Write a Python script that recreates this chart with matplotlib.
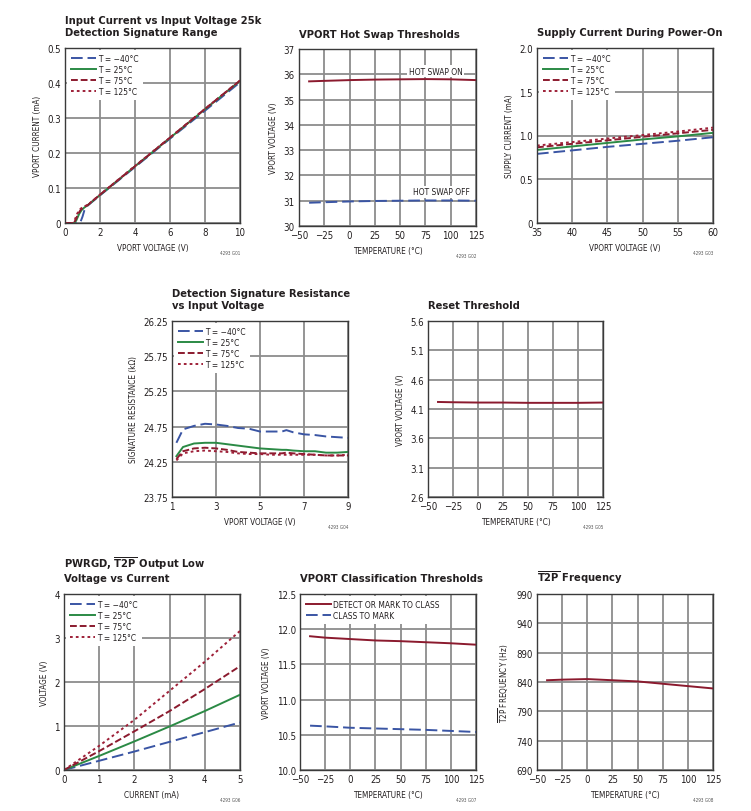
import matplotlib
matplotlib.use("Agg")
import matplotlib.pyplot as plt
from matplotlib import font_manager as fm

# ---------------- font selection ----------------
def _has(family, stretch='normal'):
    try:
        return fm.findfont(fm.FontProperties(family=family, stretch=stretch), fallback_to_default=False)
    except Exception:
        return None

FAMILY = 'Liberation Sans'
STRETCH = 'normal'
SCALE = 0.80
p = _has('Liberation Sans Narrow')
if p and 'Narrow' in p:
    FAMILY, SCALE = 'Liberation Sans Narrow', 1.0
else:
    p = _has('DejaVu Sans', 'condensed')
    if p and 'Condensed' in p:
        FAMILY, STRETCH, SCALE = 'DejaVu Sans', 'condensed', 0.88

plt.rcParams['font.family'] = [FAMILY, 'DejaVu Sans']
plt.rcParams['font.stretch'] = STRETCH
plt.rcParams['mathtext.fontset'] = 'custom'
plt.rcParams['mathtext.rm'] = FAMILY
plt.rcParams['mathtext.bf'] = FAMILY + ':bold'
plt.rcParams['axes.unicode_minus'] = True

if SCALE == 1.0:
    TITLE_FS, TICK_FS, LAB_FS, LEG_FS = 10.0, 7.5, 7.2, 7.2
else:
    TITLE_FS, TICK_FS, LAB_FS, LEG_FS = 8.0, 6.9, 5.9, 6.0

BLUE = '#3a55a4'
GREEN = '#2b8a45'
RED = '#8b1a2e'
RED2 = '#9e2038'
TXT = '#231f20'

# ---------------- data ----------------
# G01 input current vs input voltage
g1_x_m40 = [0, 0.8, 0.9, 1.0, 1.1, 1.3, 2, 4, 6, 8, 10]
g1_y_m40 = [0, 0, 0.005, 0.018, 0.035, 0.05, 0.079, 0.160, 0.241, 0.321, 0.402]
g1_x_25 = [0, 0.55, 0.65, 0.8, 0.95, 1.1, 1.3, 2, 4, 6, 8, 10]
g1_y_25 = [0, 0, 0.008, 0.025, 0.037, 0.044, 0.051, 0.080, 0.162, 0.243, 0.325, 0.406]
g1_x_75 = [0, 0.5, 0.6, 0.75, 0.9, 1.05, 1.3, 2, 4, 6, 8, 10]
g1_y_75 = [0, 0, 0.008, 0.026, 0.038, 0.045, 0.051, 0.081, 0.162, 0.244, 0.326, 0.407]
g1_x_125 = [0, 0.45, 0.55, 0.7, 0.85, 1.0, 1.3, 2, 4, 6, 8, 10]
g1_y_125 = [0, 0, 0.008, 0.027, 0.039, 0.045, 0.052, 0.081, 0.163, 0.244, 0.326, 0.407]

# G02 hot swap thresholds
temp = [-40, -25, 0, 25, 50, 75, 100, 125]
hs_on = [35.72, 35.74, 35.77, 35.79, 35.80, 35.81, 35.80, 35.77]
hs_off = [30.92, 30.94, 30.97, 30.99, 31.00, 31.01, 31.01, 31.00]

# G03 supply current during power-on
g3_v = [35, 40, 45, 50, 55, 60]
g3_m40 = [0.79, 0.83, 0.87, 0.905, 0.94, 0.98]
g3_25 = [0.835, 0.875, 0.915, 0.955, 0.99, 1.03]
g3_75 = [0.865, 0.905, 0.945, 0.985, 1.025, 1.065]
g3_125 = [0.885, 0.925, 0.965, 1.005, 1.045, 1.09]

# G04 detection signature resistance
g4_v = [1.2, 1.5, 2.0, 2.5, 3.0, 3.5, 4.0, 4.5, 5.0, 5.5, 6.0, 6.2, 6.5, 7.0, 7.5, 8.0, 8.5, 9.0]
g4_m40 = [24.52, 24.71, 24.76, 24.79, 24.78, 24.76, 24.73, 24.72, 24.68, 24.68, 24.68, 24.70, 24.67, 24.64, 24.63, 24.61, 24.60, 24.59]
g4_25 = [24.33, 24.46, 24.51, 24.52, 24.52, 24.50, 24.48, 24.46, 24.44, 24.43, 24.42, 24.42, 24.41, 24.40, 24.40, 24.38, 24.38, 24.39]
g4_75 = [24.29, 24.40, 24.44, 24.45, 24.44, 24.42, 24.39, 24.38, 24.37, 24.37, 24.37, 24.38, 24.37, 24.36, 24.35, 24.34, 24.34, 24.34]
g4_125 = [24.27, 24.37, 24.40, 24.41, 24.40, 24.39, 24.37, 24.36, 24.36, 24.35, 24.35, 24.35, 24.35, 24.35, 24.35, 24.34, 24.34, 24.35]

# G05 reset threshold
reset_v = [4.22, 4.215, 4.21, 4.21, 4.205, 4.205, 4.205, 4.21]

# G06 PWRGD / T2P output low voltage
g6_i = [0, 1, 2, 3, 4, 5]
g6_m40 = [0, 0.21, 0.42, 0.64, 0.86, 1.08]
g6_25 = [0, 0.32, 0.65, 0.99, 1.34, 1.71]
g6_75 = [0, 0.43, 0.88, 1.34, 1.84, 2.36]
g6_125 = [0, 0.55, 1.14, 1.80, 2.46, 3.16]

# G07 classification thresholds
cls_detect = [11.90, 11.88, 11.86, 11.84, 11.83, 11.815, 11.80, 11.78]
cls_mark = [10.63, 10.62, 10.60, 10.59, 10.58, 10.57, 10.555, 10.54]

# G08 T2P frequency
t2p_freq = [843, 844, 845, 843, 841, 837, 833, 829]

legend_labels = ['T = \u221240\u00b0C', 'T = 25\u00b0C', 'T = 75\u00b0C', 'T = 125\u00b0C']

# ---------------- figure ----------------
W, H = 751, 812
fig = plt.figure(figsize=(W / 100, H / 100), dpi=100)


def add_ax(x0, y0, x1, y1):
    return fig.add_axes([x0 / W, 1 - y1 / H, (x1 - x0) / W, (y1 - y0) / H])


def style(ax, xlim, ylim, xticks, yticks, xtl, ytl, xlabel, ylabel, title, code):
    ax.set_xlim(*xlim)
    ax.set_ylim(*ylim)
    ax.set_xticks(xticks)
    ax.set_yticks(yticks)
    ax.set_xticklabels(xtl)
    ax.set_yticklabels(ytl)
    ax.grid(True, color='#8c8c8c', lw=1.3)
    ax.set_axisbelow(True)
    for s in ax.spines.values():
        s.set_color('#3a3a3a')
        s.set_linewidth(1.0)
        s.set_zorder(5)
    ax.tick_params(length=0, labelsize=TICK_FS, pad=3, colors=TXT)
    ax.set_xlabel(xlabel, fontsize=LAB_FS, color=TXT, labelpad=4)
    ax.set_ylabel(ylabel, fontsize=LAB_FS, color=TXT, labelpad=4)
    ax.set_title(title, loc='left', fontsize=TITLE_FS, fontweight='bold', color=TXT, pad=9,
                 linespacing=1.35)
    ax.text(1.0, -0.155, code, transform=ax.transAxes, fontsize=3.3, color='#555555',
            ha='right', va='top')


def four_lines(ax, xs, ys):
    ax.plot(xs[0], ys[0], color=BLUE, lw=1.4, dashes=(6, 2.5), label=legend_labels[0])
    ax.plot(xs[1], ys[1], color=GREEN, lw=1.4, label=legend_labels[1])
    ax.plot(xs[2], ys[2], color=RED, lw=1.4, dashes=(3.5, 1.5), label=legend_labels[2])
    ax.plot(xs[3], ys[3], color=RED2, lw=1.4, dashes=(1.4, 1.6), label=legend_labels[3])


def legend(ax, **kw):
    leg = ax.legend(loc='upper left', fontsize=LEG_FS, frameon=True, fancybox=False,
                    handlelength=3.0, handletextpad=0.3, labelspacing=0.25,
                    borderpad=0.45, borderaxespad=0.25, **kw)
    leg.get_frame().set_edgecolor('white')
    leg.get_frame().set_linewidth(0)
    leg.get_frame().set_alpha(1)
    for t in leg.get_texts():
        t.set_color(TXT)
    return leg


temp_ticks = [-50, -25, 0, 25, 50, 75, 100, 125]
temp_tl = ['\u221250', '\u221225', '0', '25', '50', '75', '100', '125']

# G01
ax = add_ax(65, 49, 240, 224)
four_lines(ax, [g1_x_m40, g1_x_25, g1_x_75, g1_x_125], [g1_y_m40, g1_y_25, g1_y_75, g1_y_125])
style(ax, (0, 10), (0, 0.5), [0, 2, 4, 6, 8, 10], [0, 0.1, 0.2, 0.3, 0.4, 0.5],
      ['0', '2', '4', '6', '8', '10'], ['0', '0.1', '0.2', '0.3', '0.4', '0.5'],
      'VPORT VOLTAGE (V)', 'VPORT CURRENT (mA)',
      'Input Current vs Input Voltage 25k\nDetection Signature Range', '4293 G01')
legend(ax)

# G02
ax = add_ax(299, 50, 476, 227)
ax.plot(temp, hs_on, color=RED, lw=1.4)
ax.plot(temp, hs_off, color=BLUE, lw=1.4, dashes=(6, 2.5))
style(ax, (-50, 125), (30, 37), temp_ticks, list(range(30, 38)), temp_tl,
      [str(v) for v in range(30, 38)], 'TEMPERATURE (\u00b0C)', 'VPORT VOLTAGE (V)',
      'VPORT Hot Swap Thresholds', '4293 G02')
ax.text(85, 36.12, 'HOT SWAP ON', fontsize=LEG_FS, color=TXT, ha='center', va='center',
        bbox=dict(facecolor='white', edgecolor='none', pad=1))
ax.text(91, 31.35, 'HOT SWAP OFF', fontsize=LEG_FS, color=TXT, ha='center', va='center',
        bbox=dict(facecolor='white', edgecolor='none', pad=1))

# G03
ax = add_ax(537, 49, 713, 224)
four_lines(ax, [g3_v] * 4, [g3_m40, g3_25, g3_75, g3_125])
style(ax, (35, 60), (0, 2), [35, 40, 45, 50, 55, 60], [0, 0.5, 1.0, 1.5, 2.0],
      ['35', '40', '45', '50', '55', '60'], ['0', '0.5', '1.0', '1.5', '2.0'],
      'VPORT VOLTAGE (V)', 'SUPPLY CURRENT (mA)', 'Supply Current During Power-On', '4293 G03')
legend(ax)

# G04
ax = add_ax(172, 322, 348, 498)
four_lines(ax, [g4_v] * 4, [g4_m40, g4_25, g4_75, g4_125])
r_ticks = [23.75, 24.25, 24.75, 25.25, 25.75, 26.25]
style(ax, (1, 9), (23.75, 26.25), [1, 3, 5, 7, 9], r_ticks,
      ['1', '3', '5', '7', '9'], ['%.2f' % v for v in r_ticks],
      'VPORT VOLTAGE (V)', 'SIGNATURE RESISTANCE (k\u03a9)',
      'Detection Signature Resistance\nvs Input Voltage', '4293 G04')
legend(ax)

# G05
ax = add_ax(428, 322, 603, 498)
ax.plot(temp, reset_v, color=RED, lw=1.4)
v_ticks = [2.6, 3.1, 3.6, 4.1, 4.6, 5.1, 5.6]
style(ax, (-50, 125), (2.6, 5.6), temp_ticks, v_ticks, temp_tl,
      ['%.1f' % v for v in v_ticks], 'TEMPERATURE (\u00b0C)', 'VPORT VOLTAGE (V)',
      'Reset Threshold', '4293 G05')

# G06
ax = add_ax(64, 595, 240, 771)
four_lines(ax, [g6_i] * 4, [g6_m40, g6_25, g6_75, g6_125])
style(ax, (0, 5), (0, 4), [0, 1, 2, 3, 4, 5], [0, 1, 2, 3, 4],
      ['0', '1', '2', '3', '4', '5'], ['0', '1', '2', '3', '4'],
      'CURRENT (mA)', 'VOLTAGE (V)',
      'PWRGD, $\\overline{\\mathbf{T2P}}$ Output Low\nVoltage vs Current', '4293 G06')
legend(ax)

# G07
ax = add_ax(300, 595, 476, 771)
ax.plot(temp, cls_detect, color=RED, lw=1.4, label='DETECT OR MARK TO CLASS')
ax.plot(temp, cls_mark, color=BLUE, lw=1.4, dashes=(6, 2.5), label='CLASS TO MARK')
c_ticks = [10.0, 10.5, 11.0, 11.5, 12.0, 12.5]
style(ax, (-50, 125), (10, 12.5), temp_ticks, c_ticks, temp_tl,
      ['%.1f' % v for v in c_ticks], 'TEMPERATURE (\u00b0C)', 'VPORT VOLTAGE (V)',
      'VPORT Classification Thresholds', '4293 G07')
legend(ax)

# G08
ax = add_ax(537, 595, 713, 771)
ax.plot(temp, t2p_freq, color=RED, lw=1.4)
f_ticks = [690, 740, 790, 840, 890, 940, 990]
style(ax, (-50, 125), (690, 990), temp_ticks, f_ticks, temp_tl,
      [str(v) for v in f_ticks], 'TEMPERATURE (\u00b0C)',
      '$\\overline{\\mathrm{T2P}}$ FREQUENCY (Hz)',
      '$\\overline{\\mathbf{T2P}}$ Frequency', '4293 G08')

fig.savefig('out.png', dpi=100, facecolor='white')
